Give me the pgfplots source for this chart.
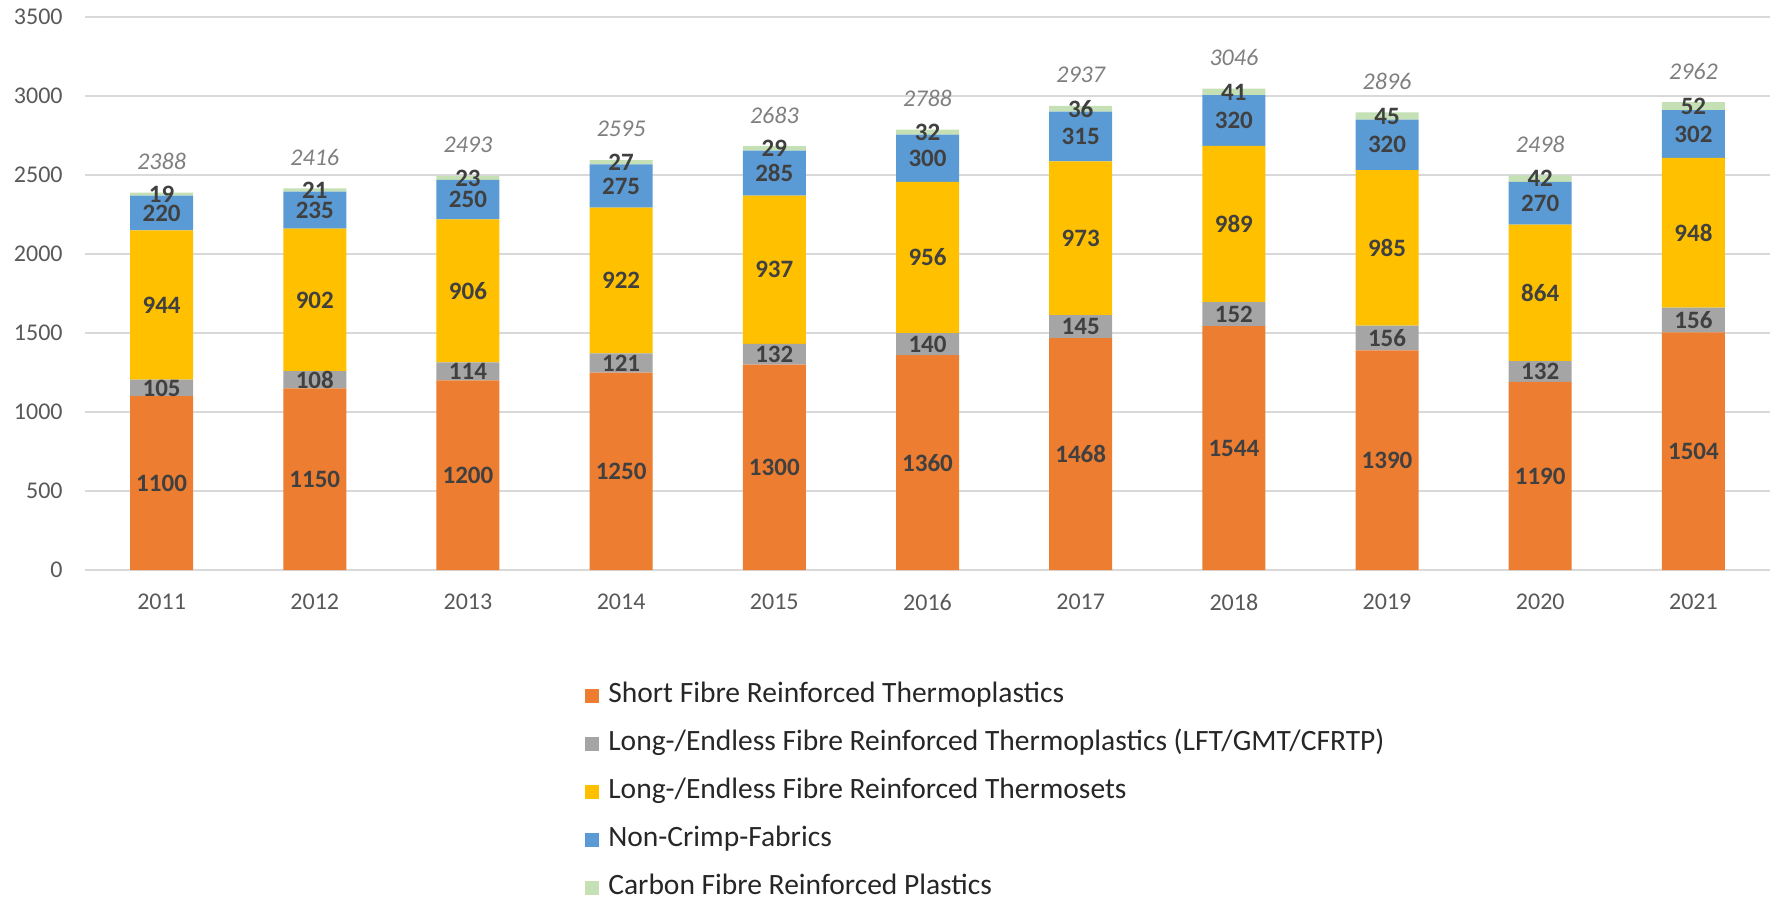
\documentclass[border=0pt]{standalone}
\usepackage{fontspec}
\setmainfont{Carlito}
\usepackage{pgfplots}
\usepackage{pgfplotstable}
\usetikzlibrary{calc}
\pgfplotsset{compat=1.18}
\pgfkeys{/pgf/number format/.cd, assume math mode=true, 1000 sep={}}

\definecolor{cSFRT}{HTML}{ED7D31}
\definecolor{cLFRT}{HTML}{A5A5A5}
\definecolor{cTS}{HTML}{FFC000}
\definecolor{cNCF}{HTML}{5B9BD5}
\definecolor{cCFRP}{HTML}{C5E0B4}
\definecolor{tick}{HTML}{595959}
\definecolor{lab}{HTML}{404040}
\definecolor{tot}{HTML}{7F7F7F}
\definecolor{gridc}{HTML}{D9D9D9}

% market volume by segment, 2011-2021
\pgfplotstableread{
idx year sfrt lfrt thset ncf cfrp total
0  2011 1100 105 944 220 19 2388
1  2012 1150 108 902 235 21 2416
2  2013 1200 114 906 250 23 2493
3  2014 1250 121 922 275 27 2595
4  2015 1300 132 937 285 29 2683
5  2016 1360 140 956 300 32 2788
6  2017 1468 145 973 315 36 2937
7  2018 1544 152 989 320 41 3046
8  2019 1390 156 985 320 45 2896
9  2020 1190 132 864 270 42 2498
10 2021 1504 156 948 302 52 2962
}\datatable

% with anchor=center the stacked labels already sit mid-segment
\pgfplotsset{
  seglab/.style={
    nodes near coords,
    every node near coord/.append style={anchor=center,
      font=\fontsize{12.5bp}{13bp}\selectfont\bfseries, text=lab, inner sep=0pt},
  },
  base/.style={
    scale only axis, width=842.5bp, height=276.5bp,
    xmin=-0.5, xmax=10.5, ymin=0, ymax=3500,
  },
}

\begin{document}
\begin{tikzpicture}
\begin{axis}[
  base,
  ybar stacked, bar width=31.5bp,
  xtick={0,...,10},
  xticklabels={2011,2012,2013,2014,2015,2016,2017,2018,2019,2020,2021},
  ytick={0,500,...,3500},
  axis line style={draw=none}, major tick length=0pt,
  ymajorgrids, grid style={gridc, line width=0.75bp},
  tick label style={font=\fontsize{12bp}{14bp}\selectfont, text=tick},
  yticklabel style={anchor=east, inner sep=0pt, xshift=-11bp},
  xticklabel style={anchor=center, inner sep=0pt, yshift=-16bp},
  legend style={at={(0.2967,-0.206)}, anchor=north west, draw=none, fill=none,
    inner sep=0pt, row sep=12bp, cells={anchor=west},
    nodes={inner sep=0pt, text height=9bp, text depth=3bp},
    font=\fontsize{14.75bp}{15bp}\selectfont, text=black!85},
  legend image code/.code={\fill[#1] (0bp,-3.5bp) rectangle (7bp,3.5bp);},
  legend cell align=left,
]
\addplot[fill=cSFRT, draw=none, seglab] table[x=idx, y=sfrt] {\datatable};
\addlegendentry{\hspace{4.5bp}Short Fibre Reinforced Thermoplastics}
\addplot[fill=cLFRT, draw=none, seglab] table[x=idx, y=lfrt] {\datatable};
\addlegendentry{\hspace{4.5bp}Long-/Endless Fibre Reinforced Thermoplastics (LFT/GMT/CFRTP)}
\addplot[fill=cTS, draw=none, seglab] table[x=idx, y=thset] {\datatable};
\addlegendentry{\hspace{4.5bp}Long-/Endless Fibre Reinforced Thermosets}
\addplot[fill=cNCF, draw=none, seglab] table[x=idx, y=ncf] {\datatable};
\addlegendentry{\hspace{4.5bp}Non-Crimp-Fabrics}
\addplot[fill=cCFRP, draw=none, seglab] table[x=idx, y=cfrp] {\datatable};
\addlegendentry{\hspace{4.5bp}Carbon Fibre Reinforced Plastics}
\end{axis}
% totals above each stack
\begin{axis}[base, hide axis]
\addplot[draw=none, mark=none, nodes near coords,
  every node near coord/.append style={anchor=center, yshift=15.5bp,
    font=\fontsize{12bp}{14bp}\selectfont\itshape, text=tot, inner sep=0pt}]
  table[x=idx, y=total] {\datatable};
\end{axis}
\path[use as bounding box] ($(current axis.south west)+(-42.5bp,-164.5bp)$) rectangle ++(886bp,449.5bp);
\end{tikzpicture}
\end{document}
